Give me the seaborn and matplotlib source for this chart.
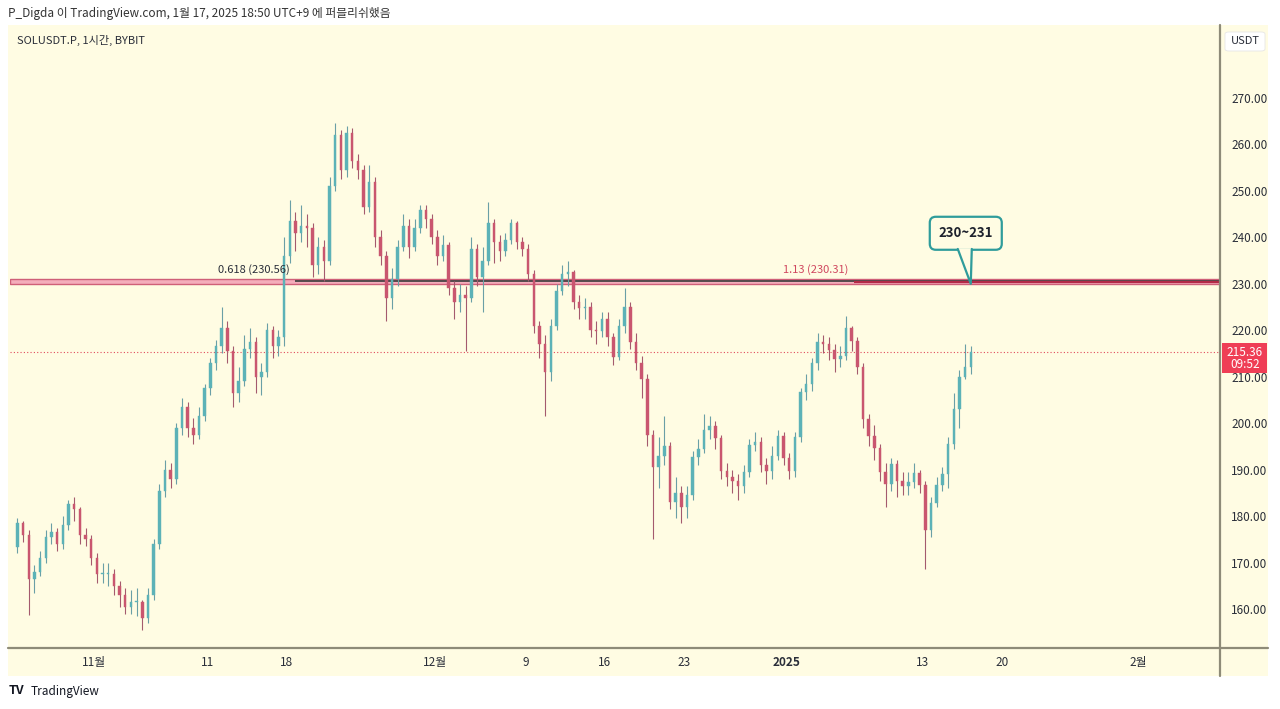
import numpy as np
import pandas as pd
import matplotlib
matplotlib.use("Agg")
import matplotlib.pyplot as plt
import matplotlib.dates as mdates
from matplotlib.patches import Rectangle, FancyBboxPatch, Polygon
from matplotlib.lines import Line2D
import seaborn as sns

# SOLUSDT.P, 12h candles (Oct 25 2024 -> Jan 17 2025)
first_open = 173.3
close = [178.5, 176, 166.5, 168, 171, 175.5, 176.5, 174, 178, 182.5,
         181.5, 176, 175, 171, 167.5, 167.5, 167.5, 165, 163, 160.5,
         161.5, 161.5, 158, 163, 174, 185.5, 190, 188, 199, 203.5,
         199, 197.5, 201.5, 207.5, 213, 216.5, 220.5, 215.5, 206.5, 209,
         216, 217.5, 210, 211, 220, 216.5, 218.5, 236, 243.5, 241,
         242.5, 242, 234, 238, 235, 251, 262, 254.5, 262.5, 256.5,
         254.5, 246.5, 252, 240, 236, 227, 231, 238, 242.5, 238,
         242, 245.8, 244, 240, 236, 238.3, 229, 226, 227.5, 227,
         237.5, 231.5, 235, 243, 239, 237, 239.5, 243, 239, 237.5,
         232, 221, 217, 211, 221, 228.5, 232, 232.5, 226, 224.7,
         225, 220, 219.8, 222.5, 218.5, 214.2, 221, 225, 217.5, 213,
         209.5, 197.5, 190.6, 193, 195, 183, 185, 182, 184.5, 192.7,
         194.5, 198.5, 199.3, 196.7, 189.7, 188.5, 187.5, 186.5, 189.5, 195.4,
         196, 191, 189.7, 193, 197.2, 192.5, 189.6, 197, 206.6, 208.5,
         213, 217.5, 217, 215.8, 213.8, 214.5, 220.4, 217.7, 212, 200.8,
         197.2, 194.6, 189.5, 187, 191.3, 187.6, 186.4, 187.4, 189.2, 186.6,
         177, 182.8, 186.6, 189.1, 195.5, 203, 210, 212, 215.36]
high = [179.5, 179, 177, 169.5, 172.5, 177, 178.5, 177.5, 180, 183.5,
        184, 182, 177.5, 176, 172, 170, 170, 168.5, 166, 164.5,
        164, 164.5, 162, 164.5, 175, 187, 192, 191.5, 200, 205.5,
        204.5, 201, 203.5, 208.5, 214, 218, 225, 222, 216.5, 212,
        219, 220.5, 218.5, 213, 221.5, 221, 220, 240, 248, 245.5,
        247, 245, 243, 240, 239.5, 253, 264.5, 263, 264, 263.5,
        258, 255.5, 255.5, 253, 241.5, 237, 233.5, 239.5, 245, 244,
        244, 247, 247, 245, 241.5, 240.5, 239, 230.5, 230, 229.5,
        240, 238.5, 238, 247.5, 244, 240.5, 241, 244, 243.5, 240,
        238.5, 233, 222, 219, 222.5, 230, 234, 235, 233, 227.5,
        227, 226, 222, 224, 224, 219.5, 222.5, 229, 226, 219.5,
        214.5, 210.5, 198.5, 197, 201.5, 196, 188.5, 186.5, 186.5, 194,
        196.5, 202, 201.5, 200.5, 197.5, 191.5, 190, 189, 191, 196.5,
        198, 197, 192.5, 195, 198.5, 198, 193.5, 198, 207.5, 210.5,
        214, 219.5, 219, 218.5, 217, 216.5, 223, 221, 218.5, 213,
        202, 199.5, 195.5, 191.5, 192.5, 192, 189.5, 189.5, 191.5, 190,
        187.5, 184, 188.5, 190.5, 197, 206.5, 211.5, 217, 216.5]
low = [172, 174.5, 158.7, 163.5, 167, 170, 174, 172.5, 173, 177,
       179, 174, 173.5, 169.5, 165.5, 165.5, 165, 163, 160.5, 159,
       159, 158.5, 155.5, 157, 162, 173, 184, 186, 187, 197.5,
       197, 195.5, 196.5, 200.5, 206, 211.5, 215, 213, 203.5, 204.5,
       208, 214, 206.5, 206, 210, 214, 214.5, 216.5, 234.5, 237,
       239, 238, 231.5, 232, 230.5, 234, 250, 252.5, 253, 255,
       252.5, 245, 245.5, 238, 234, 222, 224.5, 229.5, 237, 235.5,
       237, 241, 242, 238.5, 234, 235, 227.5, 222.5, 224, 215.5,
       226, 229.5, 224, 234, 234.5, 235, 236, 238.5, 237.5, 236,
       230.5, 219.5, 214, 201.5, 209, 220, 227.5, 229.5, 224.5, 222.5,
       222.5, 218.5, 217, 218.5, 216.5, 212.5, 213.5, 219.5, 216, 211.5,
       205.5, 195, 175, 186, 191, 181.5, 179.5, 178.5, 179.5, 183.5,
       191, 193.5, 196.5, 194.5, 188, 186.5, 185, 183.5, 185, 188.5,
       194, 189.5, 187, 188, 192, 191, 188, 188.5, 196, 205,
       207, 211.5, 215, 213.5, 211, 212, 213.5, 215.5, 210.5, 199,
       195, 192, 187.5, 182, 185.5, 184, 184.5, 184.5, 186, 185,
       168.5, 175.5, 182, 185.5, 186, 194.5, 199, 209.5, 210.5]

last_price = 215.36
countdown = "09:52"
band_low, band_high = 230.0, 231.0
fib_0618 = 230.56
fib_113 = 230.31
price_ticks = [160, 170, 180, 190, 200, 210, 220, 230, 240, 250, 260, 270]
date_ticks = ["2024-11-01", "2024-11-11", "2024-11-18", "2024-12-01", "2024-12-09",
              "2024-12-16", "2024-12-23", "2025-01-01", "2025-01-13", "2025-01-20",
              "2025-02-01"]
date_labels = ["11월", "11", "18", "12월", "9", "16", "23", "2025", "13", "20", "2월"]

BG = "#fffce3"
UP = "#5cb2b7"
DOWN = "#c9566f"
UP_WICK = "#6a9fa6"
DOWN_WICK = "#a45a6e"
AXIS_LINE = "#8e8b78"
TXT = "#2a2e39"

sns.set_theme(style="white")
plt.rcParams["font.family"] = ["Noto Sans CJK KR", "DejaVu Sans"]

W, H = 1280, 709
fig = plt.figure(figsize=(W / 100, H / 100), dpi=100, facecolor="white")


def fx(px):
    return px / W


def fy(py):
    return 1 - py / H


# chart widget background (plot + price axis + time axis), behind the axes
fig.patches.append(Rectangle((fx(8), fy(676)), fx(1268) - fx(8), fy(25) - fy(676),
                             transform=fig.transFigure, facecolor=BG,
                             edgecolor="none", zorder=-5))

ax = fig.add_axes([fx(10), fy(648), fx(1220) - fx(10), fy(25) - fy(648)])
ax.set_facecolor(BG)

df = pd.DataFrame({"close": close, "high": high, "low": low})
df["open"] = [first_open] + close[:-1]
df["time"] = pd.date_range("2024-10-25", periods=len(df), freq="12h") + pd.Timedelta(hours=6)
df["x"] = mdates.date2num(df["time"])
df["up"] = df["close"] >= df["open"]
colors = np.where(df["up"], UP, DOWN)
wick_colors = np.where(df["up"], UP_WICK, DOWN_WICK)

ax.vlines(df["x"], df["low"], df["high"], colors=wick_colors, linewidth=0.8, zorder=3)
body_lo = np.minimum(df["open"], df["close"])
body_h = np.maximum(np.abs(df["close"] - df["open"]), 0.15)
ax.bar(df["x"], body_h, bottom=body_lo, width=0.22, color=colors,
       edgecolor=colors, linewidth=0.3, zorder=4)

x_left = mdates.date2num(pd.Timestamp("2024-10-24 14:20"))
x_right = mdates.date2num(pd.Timestamp("2025-02-08 05:00"))
ax.set_xlim(x_left, x_right)
ax.set_ylim(151.6, 285.7)

# 230~231 zone
ax.axhspan(band_low, band_high, facecolor="#f4adbb", edgecolor="#cf5f78",
           linewidth=1.0, zorder=2)
x_fib1 = mdates.date2num(pd.Timestamp("2024-11-18 18:00"))
x_fib2 = mdates.date2num(pd.Timestamp("2025-01-07 00:00"))
ax.hlines(fib_0618, x_fib1, x_right, colors="#3a3a3a", linewidth=1.2, zorder=2.5)
ax.hlines(fib_113, x_fib2, x_right, colors="#b32a47", linewidth=1.6, zorder=2.5)
ax.text(x_fib1 - 0.5, fib_0618 + 1.4, "0.618 (230.56)", ha="right", va="bottom",
        fontsize=8, color="#2a2e39", zorder=6)
ax.text(x_fib2 - 0.5, fib_0618 + 1.4, "1.13 (230.31)", ha="right", va="bottom",
        fontsize=8, color="#d0475f", zorder=6)

# current price dotted line
ax.axhline(last_price, color="#e04a5c", linestyle=(0, (1, 2)), linewidth=0.8, zorder=2)

# axes styling
for s in ["top", "left", "right", "bottom"]:
    ax.spines[s].set_visible(False)
ax.yaxis.tick_right()
ax.set_yticks(price_ticks)
ax.set_yticklabels([f"{v:.2f}" for v in price_ticks])
ax.tick_params(axis="y", length=0, pad=8, labelsize=8.5, labelcolor=TXT)
ax.set_xticks(mdates.date2num(pd.to_datetime(date_ticks)))
ax.set_xticklabels(date_labels)
ax.tick_params(axis="x", length=0, pad=6, labelsize=8.5, labelcolor=TXT)
for lbl in ax.get_xticklabels():
    if lbl.get_text() == "2025":
        lbl.set_fontweight("bold")
ax.grid(False)

# separators of price and time axes
fig.add_artist(Line2D([fx(8), fx(1268)], [fy(648), fy(648)], color=AXIS_LINE,
                      linewidth=1.6, transform=fig.transFigure))
fig.add_artist(Line2D([fx(1220), fx(1220)], [fy(25), fy(676)], color=AXIS_LINE,
                      linewidth=1.6, transform=fig.transFigure))

# last price tag
fig.patches.append(Rectangle((fx(1222), fy(373)), fx(1267) - fx(1222), fy(343) - fy(373),
                             transform=fig.transFigure, facecolor="#ef3e55",
                             edgecolor="none", zorder=5))
fig.text(fx(1245), fy(352), f"{last_price:.2f}", ha="center", va="center",
         fontsize=8.5, color="white", zorder=6)
fig.text(fx(1245), fy(365), countdown, ha="center", va="center",
         fontsize=8.5, color="white", zorder=6)

# USDT box
fig.patches.append(FancyBboxPatch((fx(1225), fy(51)), fx(1265) - fx(1225), fy(32) - fy(51),
                                  boxstyle="round,pad=0,rounding_size=0.003",
                                  transform=fig.transFigure, facecolor="white",
                                  edgecolor="#e6e6e6", linewidth=0.6, zorder=5))
fig.text(fx(1245), fy(41.5), "USDT", ha="center", va="center", fontsize=8,
         color=TXT, zorder=6)

# callout 230~231
fig.canvas.draw()
x_tip = mdates.date2num(pd.Timestamp("2025-01-17 06:00"))
tip = ax.transData.transform((x_tip, band_low))
tx, ty = tip
teal = "#2f9c9b"
box = FancyBboxPatch((tx - 41, ty + 34), 72, 33,
                     boxstyle="round,pad=0,rounding_size=6", transform=None,
                     facecolor=BG, edgecolor=teal, linewidth=1.6, zorder=7)
fig.patches.append(box)
tail = Polygon([(tx - 13, ty + 35.5), (tx + 1, ty + 35.5), (tx, ty)], closed=True,
               transform=None, facecolor=BG, edgecolor="none", zorder=8)
fig.patches.append(tail)
fig.add_artist(Line2D([tx - 13, tx, tx + 1], [ty + 34.8, ty, ty + 34.8], color=teal,
                      linewidth=1.6, transform=None, zorder=9))
fig.text(tx - 5, ty + 51, "230~231", ha="center", va="center", fontsize=9.5,
         fontweight="bold", color="#1e222d", transform=None, zorder=10)

# header and footer texts
fig.text(fx(8), fy(13), "P_Digda 이 TradingView.com, 1월 17, 2025 18:50 UTC+9 에 퍼블리쉬했음",
         ha="left", va="center", fontsize=8.5, color="#333333")
fig.text(fx(17), fy(40), "SOLUSDT.P, 1시간, BYBIT", ha="left", va="center",
         fontsize=8, color=TXT, zorder=6)
fig.text(fx(9), fy(691), "TV", ha="left", va="center", fontsize=9,
         fontweight="heavy", color="#131722")
fig.text(fx(31), fy(691), "TradingView", ha="left", va="center", fontsize=8.5,
         color="#131722")

fig.savefig("out.png", dpi=100, facecolor="white")
